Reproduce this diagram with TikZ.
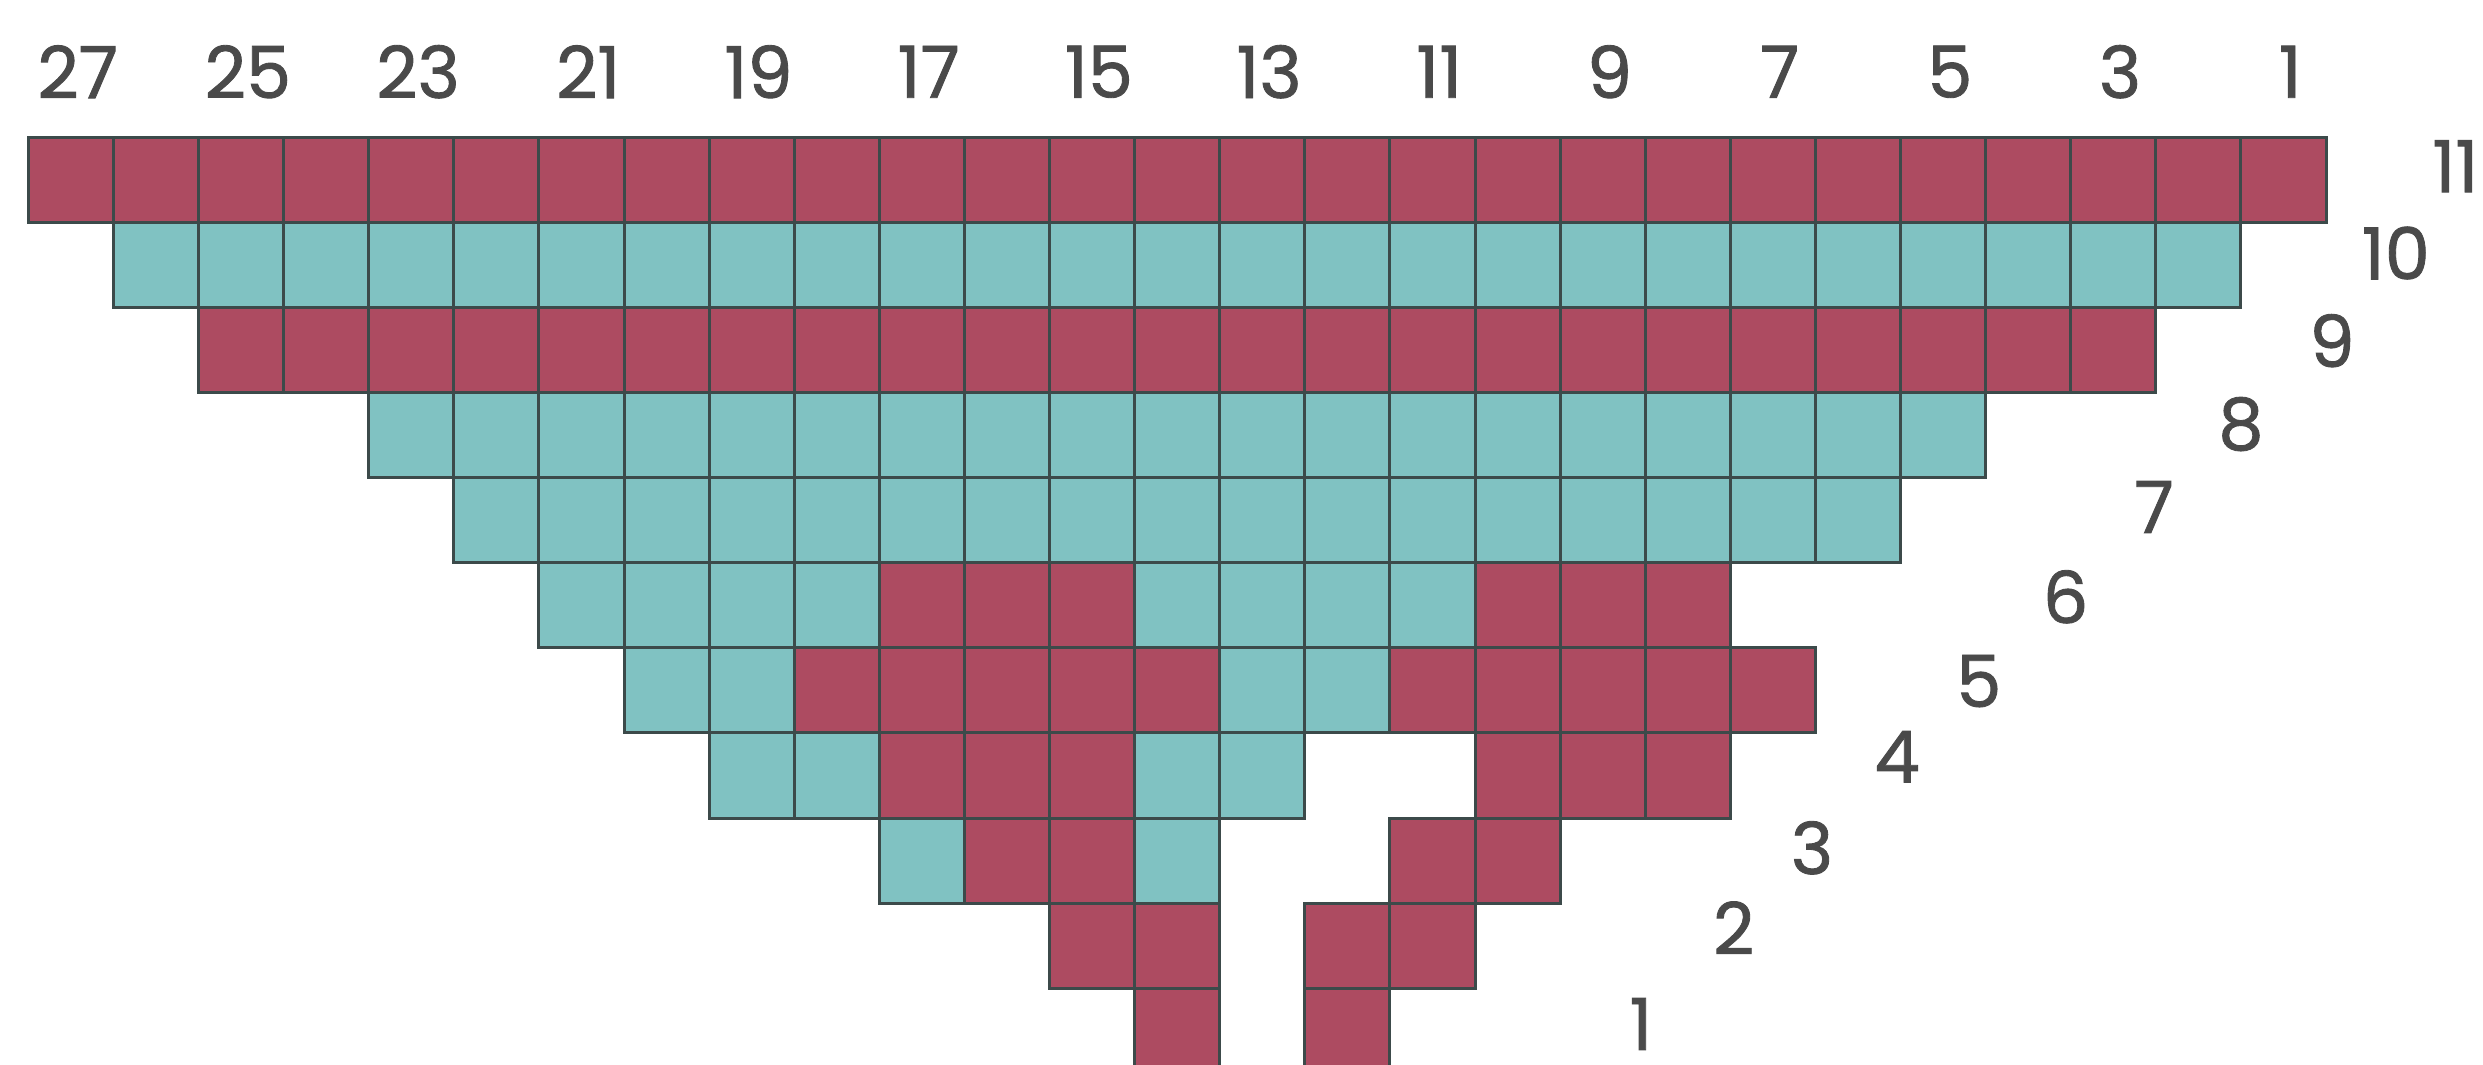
\documentclass[tikz,border=0pt]{standalone}
\usepackage{fontspec}
\setmainfont{Poppins}
\newfontfamily\chartfont{Poppins}[FakeBold=1.2]
\definecolor{chartred}{HTML}{AD4B61}
\definecolor{chartteal}{HTML}{80C2C2}
\definecolor{gridline}{HTML}{3C4A4A}
\definecolor{labelgray}{HTML}{4A4A4A}
\tikzset{
    redcell/.style={fill=chartred, draw=gridline, line width=1pt},
    tealcell/.style={fill=chartteal, draw=gridline, line width=1pt},
    numlabel/.style={text=labelgray, font=\chartfont\fontsize{24}{28}\selectfont, inner sep=0pt}
}
\begin{document}
\begin{tikzpicture}
        %frame
        \useasboundingbox (-0.333,0.11) rectangle (28.845,12.613);
        \clip (-0.333,0.11) rectangle (28.845,12.613);
        %draw row 11
        \foreach \c in {1,...,27} \draw[redcell] (\c-1,10) rectangle ++(1,1);
        %draw row 10
        \foreach \c in {2,...,26} \draw[tealcell] (\c-1,9) rectangle ++(1,1);
        %draw row 9
        \foreach \c in {3,...,25} \draw[redcell] (\c-1,8) rectangle ++(1,1);
        %draw rows 8 and 7
        \foreach \c in {5,...,23} \draw[tealcell] (\c-1,7) rectangle ++(1,1);
        \foreach \c in {6,...,22} \draw[tealcell] (\c-1,6) rectangle ++(1,1);
        %draw row 6
        \foreach \c in {7,8,9,10,14,15,16,17} \draw[tealcell] (\c-1,5) rectangle ++(1,1);
        \foreach \c in {11,12,13,18,19,20} \draw[redcell] (\c-1,5) rectangle ++(1,1);
        %draw row 5
        \foreach \c in {8,9,15,16} \draw[tealcell] (\c-1,4) rectangle ++(1,1);
        \foreach \c in {10,11,12,13,14,17,18,19,20,21} \draw[redcell] (\c-1,4) rectangle ++(1,1);
        %draw row 4
        \foreach \c in {9,10,14,15} \draw[tealcell] (\c-1,3) rectangle ++(1,1);
        \foreach \c in {11,12,13,18,19,20} \draw[redcell] (\c-1,3) rectangle ++(1,1);
        %draw row 3
        \foreach \c in {11,14} \draw[tealcell] (\c-1,2) rectangle ++(1,1);
        \foreach \c in {12,13,17,18} \draw[redcell] (\c-1,2) rectangle ++(1,1);
        %draw rows 2 and 1
        \foreach \c in {13,14,16,17} \draw[redcell] (\c-1,1) rectangle ++(1,1);
        \foreach \c in {14,16} \draw[redcell] (\c-1,0) rectangle ++(1,1);

        %stitch numbers
        \foreach \n in {1,3,...,27} \node[numlabel] (st\n) at (27.58-\n,11.77) {\n};
        %row numbers
        \foreach \r/\x/\y in {11/28.52/10.66, 10/27.82/9.64, 9/27.07/8.61, 8/26.0/7.63, 7/24.98/6.655, 6/23.94/5.60, 5/22.92/4.61, 4/21.96/3.72, 3/20.96/2.65, 2/20.04/1.71, 1/18.95/0.58}
            \node[numlabel] (row\r) at (\x,\y) {\r};
\end{tikzpicture}
\end{document}
